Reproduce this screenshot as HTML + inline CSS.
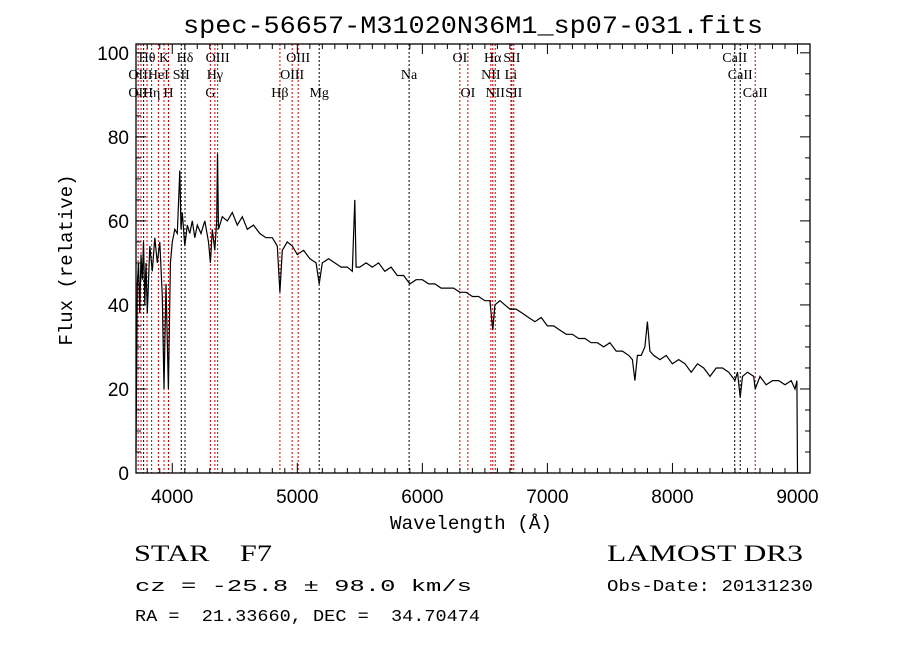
<!DOCTYPE html>
<html><head><meta charset="utf-8"><style>
body{margin:0;background:#fff}
svg text{font-family:"Liberation Sans",sans-serif;white-space:pre}
.m{font-family:"Liberation Mono",monospace}
.s{font-family:"Liberation Serif",serif}
</style></head><body>
<svg id="c" width="900" height="649" xmlns="http://www.w3.org/2000/svg" xml:space="preserve">
<rect width="900" height="649" fill="#fff"/>
<text x="183" y="33" font-size="25" textLength="580" lengthAdjust="spacingAndGlyphs" class="m">spec-56657-M31020N36M1_sp07-031.fits</text>
<text transform="translate(72,260) rotate(-90)" font-size="19" text-anchor="middle" class="m">Flux (relative)</text>
<text x="390" y="529" font-size="19" textLength="162" lengthAdjust="spacingAndGlyphs" class="m">Wavelength (Å)</text>
<text x="134" y="561" font-size="23" textLength="138" lengthAdjust="spacingAndGlyphs" class="s">STAR    F7</text>
<text x="135" y="591" font-size="17" textLength="337" lengthAdjust="spacingAndGlyphs" class="m">cz = -25.8 ± 98.0 km/s</text>
<text x="135" y="621" font-size="17" textLength="345" lengthAdjust="spacingAndGlyphs" class="m">RA =  21.33660, DEC =  34.70474</text>
<text x="607" y="561" font-size="23" textLength="196" lengthAdjust="spacingAndGlyphs" class="s">LAMOST DR3</text>
<text x="607" y="591" font-size="17" textLength="206" lengthAdjust="spacingAndGlyphs" class="m">Obs-Date: 20131230</text>
<g id="g"></g>
</svg>
<script>
const wl=[3710,3720,3730,3740,3750,3760,3770,3780,3790,3800,3820,3840,3860,3880,3900,3920,3934,3950,3969,3985,4000,4020,4040,4060,4070,4080,4100,4120,4140,4160,4180,4200,4230,4260,4290,4305,4320,4340,4355,4362,4370,4400,4440,4480,4520,4560,4600,4650,4700,4750,4800,4840,4861,4880,4920,4960,5000,5050,5100,5150,5175,5200,5250,5300,5350,5400,5440,5460,5470,5500,5550,5600,5650,5700,5750,5800,5850,5900,5950,6000,6050,6100,6150,6200,6250,6300,6350,6400,6450,6500,6540,6563,6580,6620,6660,6700,6750,6800,6850,6900,6950,7000,7050,7100,7150,7200,7250,7300,7350,7400,7450,7500,7550,7600,7650,7680,7700,7720,7750,7780,7800,7820,7850,7900,7950,8000,8050,8100,8150,8200,8250,8300,8350,8400,8450,8500,8520,8542,8560,8600,8650,8662,8700,8750,8800,8850,8900,8950,8980,8995,9000];
const flux=[5,45,50,38,52,46,55,40,50,38,54,48,56,50,55,42,20,45,20,50,55,58,57,72,58,62,54,59,57,60,56,59,57,60,55,50,58,53,60,76,58,61,60,62,59,61,58,59,57,56,56,54,43,53,55,54,52,53,51,50,45,50,51,50,49,49,48,65,49,49,50,49,50,48,49,47,47,45,46,46,45,45,44,44,44,43,43,42,42,41,41,34,40,41,40,39,39,38,37,36,37,35,35,34,33,33,32,32,31,31,30,31,29,29,28,27,22,28,28,30,36,29,28,27,28,26,27,26,24,26,25,23,25,25,24,22,24,18,23,24,23,20,23,21,22,22,21,22,20,22,0];
const lineWl=[3727,3750,3771,3798,3835,3889,3934,3969,3970,4072,4102,4305,4341,4363,4861,4959,5007,5175,5894,6300,6364,6548,6563,6583,6708,6716,6731,8498,8542,8662];
const lineRed=[1,1,0,1,1,1,1,1,1,0,0,1,1,1,1,1,1,0,0,1,1,1,1,1,1,1,1,0,0,1];
const labels=[["Hθ",3798,1],["K",3934,1],["Hδ",4102,1],["OIII",4363,1],["OIII",5007,1],["OI",6300,1],["Hα",6563,1],["SII",6716,1],["CaII",8498,1],
["OII",3727,2],["HeI",3889,2],["SII",4072,2],["Hγ",4341,2],["OIII",4959,2],["Na",5894,2],["NII",6548,2],["Li",6708,2],["CaII",8542,2],
["OII",3727,3],["Hη",3835,3],["H",3969,3],["G",4305,3],["Hβ",4861,3],["Mg",5175,3],["OI",6364,3],["NII",6583,3],["SII",6731,3],["CaII",8662,3]];
const xTicks=[4000,5000,6000,7000,8000,9000];
const yTicks=[0,20,40,60,80,100];
const X0=136,X1=810,Y0=473,Y1=44,XMIN=3710,XMAX=9100,YMIN=0,YMAX=102.1;
const sx=v=>X0+(v-XMIN)/(XMAX-XMIN)*(X1-X0);
const sy=v=>Y0-(v-YMIN)/(YMAX-YMIN)*(Y0-Y1);
const g=document.getElementById('g');const NS='http://www.w3.org/2000/svg';
function mk(t,a,p){const e=document.createElementNS(NS,t);for(const k in a)e.setAttribute(k,a[k]);(p||g).appendChild(e);return e;}
lineWl.forEach((w,i)=>{const e=mk('line',{x1:sx(w),x2:sx(w),y1:Y1,y2:Y0,stroke:lineRed[i]?'#c00':'#000','stroke-width':1,'stroke-dasharray':'2,2'});

});
labels.forEach(l=>{const t=mk('text',{x:sx(l[1]),y:[0,62,79,97][l[2]],'font-size':14,'text-anchor':'middle','class':'s'});t.textContent=l[0];

});
let d='';wl.forEach((w,i)=>{d+=(i?'L':'M')+sx(w).toFixed(1)+' '+sy(flux[i]).toFixed(1);});
const p=mk('path',{d:d,fill:'none',stroke:'#000','stroke-width':1.2});


const fr=mk('rect',{x:X0,y:Y1,width:X1-X0,height:Y0-Y1,fill:'none',stroke:'#000','stroke-width':1.3});


for(let w=3800;w<=9100;w+=100){const L=(w%1000===0)?10:5;
mk('line',{x1:sx(w),x2:sx(w),y1:Y0,y2:Y0-L,stroke:'#000'});mk('line',{x1:sx(w),x2:sx(w),y1:Y1,y2:Y1+L,stroke:'#000'});}
for(let v=0;v<=100;v+=5){const L=(v%20===0)?10:5;
mk('line',{x1:X0,x2:X0+L,y1:sy(v),y2:sy(v),stroke:'#000'});mk('line',{x1:X1,x2:X1-L,y1:sy(v),y2:sy(v),stroke:'#000'});}
xTicks.forEach(v=>{const t=mk('text',{x:sx(v),y:503,'font-size':19,'text-anchor':'middle'});t.textContent=v;

});
yTicks.forEach(v=>{const t=mk('text',{x:129,y:sy(v)+7,'font-size':19,'text-anchor':'end'});t.textContent=v;

});
</script>
</body></html>
